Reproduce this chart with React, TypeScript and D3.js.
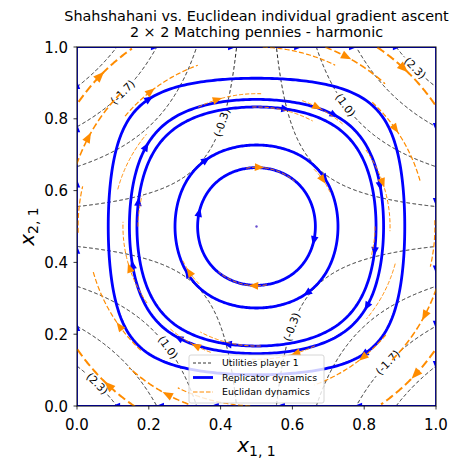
import React from 'react';
import * as d3 from 'd3';

const W = 452;
const H = 461;

const titleLines = ['Shahshahani vs. Euclidean individual gradient ascent', '2 × 2 Matching pennies - harmonic'];
const xTicks = [0, 0.2, 0.4, 0.6, 0.8, 1.0];
const yTicks = [0, 0.2, 0.4, 0.6, 0.8, 1.0];

// player 1 payoffs: rows x_{1,1} = 1 / 0, cols x_{2,1} = 1 / 0
const payoff1 = [[3, -3], [-3, 3]];

// contour levels of player 1 utility
const utilityLevels = [-2.333, -1.667, -1.0, -0.333, 0.333, 1.0, 1.667, 2.333];
// labelled levels and x position of their label
const contourLabels = [
  { level: -1.667, x: 0.128 },
  { level: -0.333, x: 0.404 },
  { level: 1.0, x: 0.747 },
  { level: 2.333, x: 0.941 },
  { level: 2.333, x: 0.056 },
  { level: 1.0, x: 0.253 },
  { level: -0.333, x: 0.599 },
  { level: -1.667, x: 0.866 },
];

// replicator orbits: x where each orbit crosses x_{2,1} = 0.5
const orbitCrossings = [0.336, 0.273, 0.167, 0.146, 0.087];
// arrows on orbits: [orbit, angle deg]
const orbitArrows = [
  [0, 166], [0, -14],
  [1, 127], [1, -53], [1, 35], [1, 214],
  [2, 76], [2, -12], [2, 256], [2, 168],
  [3, 55], [3, 18], [3, -36], [3, 235], [3, 197], [3, 144],
  [4, -50], [4, 130],
];
// boundary streamlines arrows
const topArrows = [0.217, 0.432, 0.616, 0.769, 0.891];
const bottomArrows = [0.109, 0.231, 0.384, 0.568, 0.783];
const leftArrows = [0.22, 0.435, 0.62, 0.774, 0.894];
const rightArrows = [0.114, 0.226, 0.38, 0.568, 0.777];

// euclidean streamline arcs: [radius, from deg, to deg, arrow deg]
const euclidArcs: [number, number, number, number | null][] = [
  [0.605, 145, 125, 136], [0.605, 325, 305, 317],
  [0.602, 56, 34, 47], [0.605, 236, 214, 227],
  [0.530, 161, 135, 152], [0.530, 341, 315, 332],
  [0.535, 69, 48, 62], [0.530, 249, 228, 242],
  [0.473, 47, 15, 35], [0.472, 227, 195, 216],
  [0.478, 140, 110, 128], [0.470, 320, 290, 309],
  [0.497, 182, 167, null], [0.497, 2, -13, null],
  [0.500, 88, 64, null], [0.500, 268, 244, null],
  [0.370, 116, 88, 107], [0.370, 296, 268, 287],
  [0.373, 70, 50, 63], [0.373, 250, 230, 243],
  [0.372, 35, -2, 19], [0.372, 215, 178, 198],
  [0.333, 92, 62, null], [0.333, 272, 242, null],
  [0.330, 0, -15, null], [0.330, 180, 165, null],
  [0.165, 100, 50, 87], [0.165, 280, 230, 267],
  [0.226, 45, 25, 35], [0.226, 225, 205, 214],
  [0.400, 165, 140, null], [0.400, 345, 320, null],
];

const BLUE = '#0000ff';
const ORANGE = '#ff8c00';
const FONT = 'DejaVu Sans, sans-serif';

const x = d3.scaleLinear().domain([0, 1]).range([77, 436]);
const y = d3.scaleLinear().domain([0, 1]).range([406, 47]);

// bilinear utility coefficients u = A xy + B x + C y + D
const a = payoff1[0][0], b = payoff1[0][1], c = payoff1[1][0], d = payoff1[1][1];
const A = a - b - c + d, B = b - d, C = c - d, D = d;
const replH = (px: number, py: number) => px * (1 - px) * py * (1 - py);
const replField = (px: number, py: number) => [px * (1 - px) * (A * py + B), -py * (1 - py) * (A * px + C)];
const euclField = (px: number, py: number) => [A * py + B, -(A * px + C)];

const line = d3.line<[number, number]>().x(p => x(p[0])).y(p => y(p[1]));
const closedLine = d3.line<[number, number]>().x(p => x(p[0])).y(p => y(p[1])).curve(d3.curveLinearClosed);

function arrowPath(p: [number, number], v: number[], len: number, hw: number) {
  const px = x(p[0]), py = y(p[1]);
  let vx = v[0], vy = -v[1];
  const n = Math.hypot(vx, vy) || 1;
  vx /= n; vy /= n;
  const tx = px + vx * len * 0.5, ty = py + vy * len * 0.5;
  const bx = px - vx * len * 0.5, by = py - vy * len * 0.5;
  return `M${tx},${ty}L${bx - vy * hw},${by + vx * hw}L${bx + vy * hw},${by - vx * hw}Z`;
}

function orbitPoint(level: number, deg: number): [number, number] {
  const t = (deg * Math.PI) / 180;
  const cs = Math.cos(t), sn = Math.sin(t);
  const rMax = Math.min(Math.abs(cs) > 1e-9 ? 0.5 / Math.abs(cs) : 9, Math.abs(sn) > 1e-9 ? 0.5 / Math.abs(sn) : 9);
  let lo = 0, hi = rMax;
  for (let i = 0; i < 50; i++) {
    const m = (lo + hi) / 2;
    if (replH(0.5 + m * cs, 0.5 + m * sn) > level) lo = m; else hi = m;
  }
  return [0.5 + lo * cs, 0.5 + lo * sn];
}

function contourY(level: number, px: number) {
  return (level - B * px - D) / (A * px + C);
}

function labelInfo(level: number, lx: number) {
  const ly = contourY(level, lx);
  const slope = -(A * ly + B) / (A * lx + C);
  return { cx: x(lx), cy: y(ly), rot: (-Math.atan(slope) * 180) / Math.PI, text: `(${level.toFixed(1)})` };
}

const labels = contourLabels.map(l => ({ ...labelInfo(l.level, l.x), level: l.level }));

function contourSegments(level: number) {
  const segs: [number, number][][] = [];
  const xc = -C / A;
  const halves = [[0, xc - 1e-4], [xc + 1e-4, 1]];
  const myLabels = labels.filter(l => l.level === level);
  halves.forEach(([x0, x1]) => {
    let cur: [number, number][] = [];
    const n = 1500;
    for (let i = 0; i <= n; i++) {
      const px = x0 + ((x1 - x0) * i) / n;
      const py = contourY(level, px);
      const inRange = py > -0.1 && py < 1.1;
      const inGap = myLabels.some(l => Math.hypot(x(px) - l.cx, y(py) - l.cy) < l.text.length * 2.6 + 2);
      if (inRange && !inGap) cur.push([px, py]);
      else if (cur.length) { segs.push(cur); cur = []; }
    }
    if (cur.length) segs.push(cur);
  });
  return segs;
}

function ContourLayer() {
  return (
    <g>
      {utilityLevels.map((lv, i) =>
        contourSegments(lv).map((s, j) => (
          <path key={`${i}-${j}`} d={line(s) || ''} fill="none" stroke="#000" strokeWidth={0.9} strokeDasharray="3.7,2.4" />
        ))
      )}
      {labels.map((l, i) => (
        <text key={i} x={l.cx} y={l.cy} transform={`rotate(${l.rot},${l.cx},${l.cy})`} textAnchor="middle"
          dominantBaseline="central" fontSize={10.8} fontFamily={FONT} fill="#000">{l.text}</text>
      ))}
    </g>
  );
}

function ReplicatorLayer() {
  const levels = orbitCrossings.map(cx => replH(cx, 0.5));
  const x0 = x(0), x1 = x(1), y0 = y(0), y1 = y(1);
  return (
    <g>
      <path d={`M${x0},${y0}L${x0},${y1}L${x1},${y1}L${x1},${y0}Z`} fill="none" stroke={BLUE} strokeWidth={1.8} />
      {levels.map((lv, i) => {
        const pts = d3.range(0, 360, 1).map(deg => orbitPoint(lv, deg));
        return <path key={i} d={closedLine(pts) || ''} fill="none" stroke={BLUE} strokeWidth={2.8} />;
      })}
      {orbitArrows.map(([o, deg], i) => {
        const p = orbitPoint(levels[o], deg);
        return <path key={i} d={arrowPath(p, replField(p[0], p[1]), 9, 3.8)} fill={BLUE} />;
      })}
      {topArrows.map((v, i) => <path key={`t${i}`} d={arrowPath([v, 1], [1, 0], 8, 3.2)} fill={BLUE} />)}
      {bottomArrows.map((v, i) => <path key={`b${i}`} d={arrowPath([v, 0], [-1, 0], 8, 3.2)} fill={BLUE} />)}
      {leftArrows.map((v, i) => <path key={`l${i}`} d={arrowPath([0, v], [0, 1], 8, 3.2)} fill={BLUE} />)}
      {rightArrows.map((v, i) => <path key={`r${i}`} d={arrowPath([1, v], [0, -1], 8, 3.2)} fill={BLUE} />)}
      <circle cx={x(0.5)} cy={y(0.5)} r={1.2} fill="#6a4fd0" />
    </g>
  );
}

const arcWidth = (r: number) => (r >= 0.58 ? 2.0 : r >= 0.52 ? 1.6 : r >= 0.46 ? 1.2 : 1.0);

function EuclidLayer() {
  return (
    <g>
      {euclidArcs.map(([r, a0, a1, ar], i) => {
        const pts: [number, number][] = d3.range(0, 61).map(k => {
          const t = ((a0 + ((a1 - a0) * k) / 60) * Math.PI) / 180;
          return [0.5 + r * Math.cos(t), 0.5 + r * Math.sin(t)];
        });
        const lw = arcWidth(r);
        let head = null;
        if (ar !== null) {
          const t = (ar * Math.PI) / 180;
          const p: [number, number] = [0.5 + r * Math.cos(t), 0.5 + r * Math.sin(t)];
          head = <path d={arrowPath(p, euclField(p[0], p[1]), 8 + lw * 1.5, 3.2 + lw * 0.6)} fill={ORANGE} />;
        }
        return (
          <g key={i}>
            <path d={line(pts) || ''} fill="none" stroke={ORANGE} strokeWidth={lw}
              strokeDasharray={`${4.2 * Math.max(lw, 1)},${1.9 * Math.max(lw, 1)}`} />
            {head}
          </g>
        );
      })}
    </g>
  );
}

function Axes() {
  return (
    <g fontFamily={FONT} fill="#000">
      <rect x={x(0)} y={y(1)} width={x(1) - x(0)} height={y(0) - y(1)} fill="none" stroke="#000" strokeWidth={1} />
      {xTicks.map(t => (
        <g key={`x${t}`}>
          <line x1={x(t)} x2={x(t)} y1={y(0)} y2={y(0) + 3.5} stroke="#000" strokeWidth={0.8} />
          <text x={x(t)} y={430} textAnchor="middle" fontSize={15}>{t.toFixed(1)}</text>
        </g>
      ))}
      {yTicks.map(t => (
        <g key={`y${t}`}>
          <line x1={x(0)} x2={x(0) - 3.5} y1={y(t)} y2={y(t)} stroke="#000" strokeWidth={0.8} />
          <text x={68} y={y(t) + 5.5} textAnchor="end" fontSize={15}>{t.toFixed(1)}</text>
        </g>
      ))}
      <text x={256.5} y={452} textAnchor="middle" fontSize={20}>
        <tspan fontStyle="italic">x</tspan>
        <tspan fontSize={14} dy={4}>1, 1</tspan>
      </text>
      <text transform="translate(34,226.5) rotate(-90)" textAnchor="middle" fontSize={20}>
        <tspan fontStyle="italic">x</tspan>
        <tspan fontSize={14} dy={4}>2, 1</tspan>
      </text>
      {titleLines.map((t, i) => (
        <text key={i} x={256.5} y={20.5 + i * 16.5} textAnchor="middle" fontSize={14.4}>{t}</text>
      ))}
    </g>
  );
}

function Legend() {
  const rows = [
    { label: 'Utilities player 1', stroke: '#000', w: 0.8, dash: '3,2' },
    { label: 'Replicator dynamics', stroke: BLUE, w: 2.8, dash: undefined },
    { label: 'Euclidan dynamics', stroke: ORANGE, w: 1.2, dash: '4.5,2' },
  ];
  return (
    <g fontFamily={FONT}>
      <rect x={189} y={355} width={135} height={48} rx={2} fill="#fff" fillOpacity={0.8} stroke="#cccccc" strokeWidth={0.8} />
      {rows.map((r, i) => (
        <g key={i} transform={`translate(0,${363 + i * 14.5})`}>
          <line x1={193} x2={213} y1={0} y2={0} stroke={r.stroke} strokeWidth={r.w} strokeDasharray={r.dash} />
          <text x={222} y={3.4} fontSize={9.4} fill="#000">{r.label}</text>
        </g>
      ))}
    </g>
  );
}

export default function App() {
  return (
    <svg width={W} height={H} style={{ position: 'absolute', left: 0, top: 0, background: '#fff' }}>
      <defs>
        <clipPath id="plot">
          <rect x={x(0)} y={y(1)} width={x(1) - x(0)} height={y(0) - y(1)} />
        </clipPath>
      </defs>
      <rect width={W} height={H} fill="#fff" />
      <g clipPath="url(#plot)">
        <ContourLayer />
        <ReplicatorLayer />
        <EuclidLayer />
      </g>
      <Legend />
      <Axes />
    </svg>
  );
}
